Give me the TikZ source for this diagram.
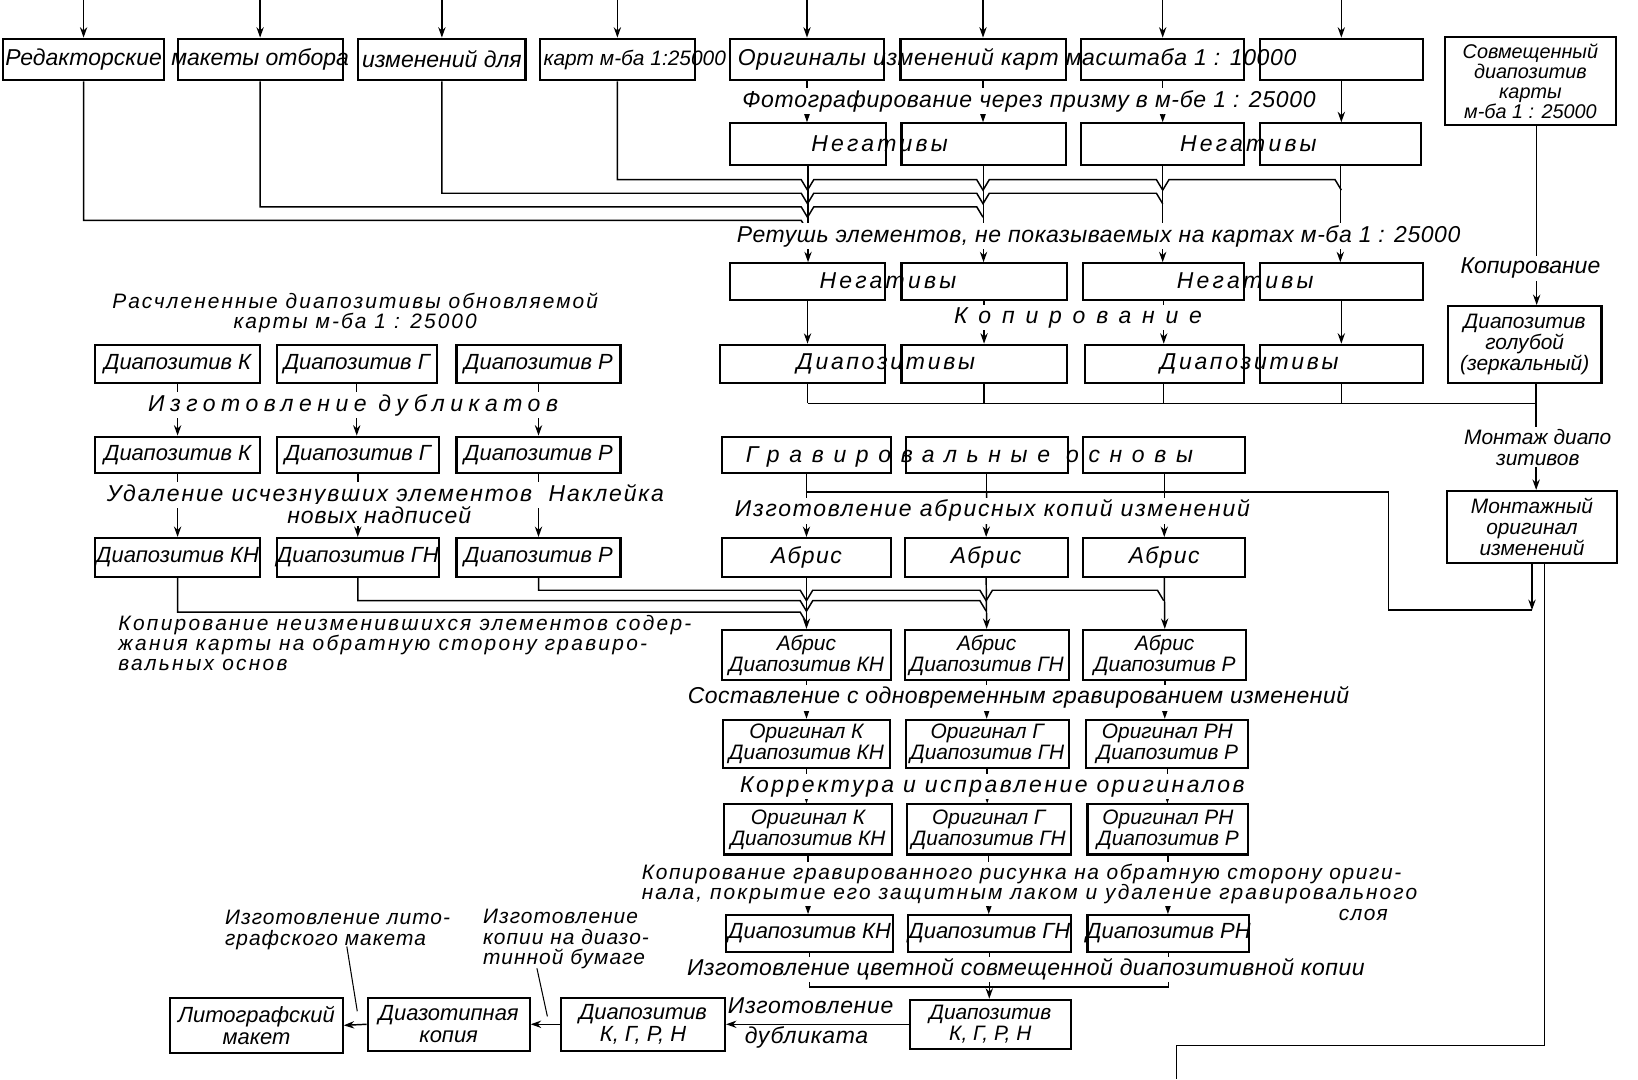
\documentclass[tikz,border=0pt]{standalone}
\usepackage{fontspec}
\setmainfont{Liberation Sans}
\usetikzlibrary{arrows.meta}
\newcommand\mybox[5]{\node[box, minimum width={(#4-#2)*0.5pt}, minimum height={(#5-#3)*0.5pt}] (#1) at ({(#2+#4)/2},{(#3+#5)/2}) {};}
\newcommand\ls[2]{{\addfontfeature{LetterSpace=#1}#2}}
\begin{document}
\begin{tikzpicture}[x=0.5pt,y=-0.5pt,
 every node/.style={font=\itshape\fontsize{11}{12}\selectfont, inner sep=0pt},
 box/.style={draw, line width=1pt},
 arr/.style={line width=0.7pt, -{Stealth[length=5pt,width=3.5pt]}},
 ln/.style={line width=0.7pt},
 lbl/.style={fill=white, inner sep=1pt},
 two/.style={align=center, font=\itshape\fontsize{10}{10}\selectfont},
 bt/.style={font=\itshape\fontsize{10.5}{12}\selectfont},
]
\fill[white] (0,0) rectangle (1568,1033);
\useasboundingbox (0,0) rectangle (1568,1033);
% ---------- boxes: top ----------
\mybox{B1}{3}{37}{157}{77}
\mybox{B2}{170}{37}{328}{77}
\mybox{B3}{343}{37}{503}{77}
\mybox{B4}{517}{37}{665}{77}
\mybox{B5}{699}{37}{846}{77}
\mybox{B6}{862}{37}{1020}{77}
\mybox{B7}{1035}{37}{1191}{77}
\mybox{B8}{1206}{37}{1362}{77}
\mybox{N1a}{699}{118}{848}{158}
\mybox{N1b}{863}{118}{1020}{158}
\mybox{N1c}{1035}{118}{1191}{158}
\mybox{N1d}{1206}{118}{1360}{158}
\mybox{N2a}{699}{252}{847}{287}
\mybox{N2b}{863}{252}{1021}{287}
\mybox{N2c}{1037}{252}{1191}{287}
\mybox{N2d}{1206}{252}{1362}{287}
\mybox{Da}{689}{330}{847}{367}
\mybox{Db}{863}{330}{1021}{367}
\mybox{Dc}{1039}{330}{1191}{367}
\mybox{Dd}{1206}{330}{1362}{367}
% right column
\mybox{S}{1383}{35}{1547}{120}
\mybox{G}{1386}{293}{1533}{367}
\mybox{M}{1385}{470}{1548}{539}
% left column
\mybox{L1a}{91}{330}{249}{367}
\mybox{L1b}{265}{330}{418}{367}
\mybox{L1c}{437}{330}{594}{367}
\mybox{L2a}{91}{418}{249}{453}
\mybox{L2b}{265}{418}{420}{453}
\mybox{L2c}{437}{418}{594}{453}
\mybox{L3a}{91}{515}{249}{552}
\mybox{L3b}{265}{515}{420}{552}
\mybox{L3c}{437}{515}{594}{552}
% middle lower
\mybox{Ga}{691}{418}{853}{453}
\mybox{Gb}{867}{418}{1022}{453}
\mybox{Gc}{1037}{418}{1192}{453}
\mybox{Aa}{691}{515}{853}{552}
\mybox{Ab}{866}{515}{1022}{552}
\mybox{Ac}{1037}{515}{1192}{552}
\mybox{ADa}{691}{603}{853}{651}
\mybox{ADb}{866}{603}{1023}{651}
\mybox{ADc}{1037}{603}{1193}{651}
\mybox{O1a}{692}{689}{852}{735}
\mybox{O1b}{867}{689}{1023}{735}
\mybox{O1c}{1040}{689}{1195}{735}
\mybox{O2a}{693}{770}{854}{818}
\mybox{O2b}{868}{770}{1025}{818}
\mybox{O2c}{1041}{770}{1195}{818}
\mybox{DBa}{695}{876}{855}{911}
\mybox{DBb}{869}{876}{1025}{911}
\mybox{DBc}{1041}{876}{1196}{911}
\mybox{RK}{871}{957}{1025}{1004}
\mybox{LK}{537}{955}{694}{1006}
\mybox{DZ}{352}{955}{507}{1006}
\mybox{LM}{163}{955}{328}{1008}
% ---------- connectors ----------
\foreach \b in {B1,B2,B3,B4,B5,B6,B7,B8} {\draw[arr] (\b.north |- 0,0) -- (\b.north);}
\draw[arr] (B5.south) -- (B5.south |- N1a.north);
\draw[arr] (B6.south) -- (B6.south |- N1b.north);
\draw[arr] (B7.south) -- (B7.south |- N1c.north);
\draw[arr] (B8.south) -- (B8.south |- N1d.north);
\draw[arr] (N1a.south) -- (N1a.south |- N2a.north);
\draw[arr] (N1b.south) -- (N1b.south |- N2b.north);
\draw[arr] (N1c.south) -- (N1c.south |- N2c.north);
\draw[arr] (N1d.south) -- (N1d.south |- N2d.north);
\draw[ln] (B4.south) |- (767,172) -- (773,182) -- (779,172) -- (935,172) -- (941,182) -- (947,172) -- (1107,172) -- (1113,182) -- (1119,172) -- (1278,172) -- (1284,182);
\draw[ln] (B3.south) |- (767,185) -- (773,195) -- (779,185) -- (935,185) -- (941,195) -- (947,185) -- (1107,185) -- (1113,195);
\draw[ln] (B2.south) |- (767,198) -- (773,208) -- (779,198) -- (935,198) -- (941,208);
\draw[ln] (B1.south) |- (767,211) -- (773,221);
\draw[arr] (N2a.south) -- (N2a.south |- Da.north);
\draw[arr] (N2b.south) -- (N2b.south |- Db.north);
\draw[arr] (N2c.south) -- (N2c.south |- Dc.north);
\draw[arr] (N2d.south) -- (N2d.south |- Dd.north);
\coordinate (dbus) at (0,386);
\draw[ln] (N2a.south |- Da.south) -- (N2a.south |- dbus);
\draw[ln] (N2b.south |- Db.south) -- (N2b.south |- dbus);
\draw[ln] (N2c.south |- Dc.south) -- (N2c.south |- dbus);
\draw[ln] (N2d.south |- Dd.south) -- (N2d.south |- dbus);
\draw[ln] (N2a.south |- dbus) -- ([xshift=5.5pt]G.south |- dbus);
\draw[arr] ([xshift=3pt]S.south) -- ([xshift=3pt]S.south |- G.north);
\draw[arr] ([xshift=5.5pt]G.south) -- ([xshift=5.5pt]G.south |- M.north);
% left
\draw[arr] (L1a.south) -- (L1a.south |- L2a.north);
\draw[arr] (L1b.south) -- (L1b.south |- L2b.north);
\draw[arr] (L1c.south) -- (L1c.south |- L2c.north);
\draw[arr] (L2a.south) -- (L2a.south |- L3a.north);
\draw[arr] (L2b.south) -- (L2b.south |- L3b.north);
\draw[arr] (L2c.south) -- (L2c.south |- L3c.north);
\draw[ln] (L3c.south) |- (766,565) -- (772,575) -- (778,565) -- (938,565) -- (944,575) -- (950,565) -- (1108,565) -- (1114,575);
\draw[ln] (L3b.south) |- (766,575) -- (772,585) -- (778,575) -- (938,575) -- (944,585);
\draw[ln] (L3a.south) |- (766,586) -- (772,596);
% gravirovalnye
\coordinate (gbus) at (0,471);
\draw[ln] (Ga.south) -- (Ga.south |- gbus);
\draw[ln] (Gb.south) -- (Gb.south |- gbus);
\draw[ln] (Gc.south) -- (Gc.south |- gbus);
\coordinate (mj) at (1466,584);
\draw[arr] (M.south) -- (M.south |- mj);
\draw[ln] (M.south |- mj) -- (1329,584) -- (1329,471) -- (Ga.south |- gbus);
\draw[arr] (Ga.south |- gbus) -- (Aa.north);
\draw[arr] (Gb.south |- gbus) -- (Ab.north);
\draw[arr] (Gc.south |- gbus) -- (Ac.north);
\draw[arr] (Aa.south) -- (ADa.north);
\draw[arr] (Ab.south) -- (ADb.north);
\draw[arr] (Ac.south) -- (ADc.north);
\draw[arr] (ADa.south) -- (ADa.south |- O1a.north);
\draw[arr] (ADb.south) -- (ADb.south |- O1b.north);
\draw[arr] (ADc.south) -- (ADc.south |- O1c.north);
\draw[arr] (O1a.south) -- (O1a.south |- O2a.north);
\draw[arr] (O1b.south) -- (O1b.south |- O2b.north);
\draw[arr] (O1c.south) -- (O1c.south |- O2c.north);
\draw[arr] (O2a.south) -- (O2a.south |- DBa.north);
\draw[arr] (O2b.south) -- (O2b.south |- DBb.north);
\draw[arr] (O2c.south) -- (O2c.south |- DBc.north);
\coordinate (cbus) at (0,945);
\draw[ln] (DBa.south) -- (DBa.south |- cbus) -- (DBc.south |- cbus) -- (DBc.south);
\draw[ln] (DBb.south) -- (DBb.south |- cbus);
\draw[arr] (DBb.south |- cbus) -- (DBb.south |- RK.north);
\draw[arr] (RK.west) -- (LK.east);
\draw[arr] (LK.west) -- (DZ.east);
\draw[arr] (DZ.west) -- (LM.east);
\coordinate (out) at (1126,1033);
\draw[ln] ([xshift=6pt]M.south) |- (out |- 0,1001) -- (out);
\coordinate (k1) at (514,927); \coordinate (k2) at (524,973);
\coordinate (m1) at (332,906); \coordinate (m2) at (342,968);
\draw[line width=0.5pt] (k1) -- (k2);
\draw[line width=0.5pt] (m1) -- (m2);
% ---------- texts ----------
\node (tB1) at (B1) {Редакторские};
\node (tB2) at (B2) {макеты отбора};
\node (tB3) at (B3) {изменений для};
\node[anchor=west,font=\itshape\fontsize{10}{12}\selectfont] (tB4) at (520,57) {карт м-ба 1:25000};
\node[anchor=west] (tOr) at (706,57) {\ls{3}{Оригиналы изменений карт масштаба 1 : 10000}};
\node[lbl] (tPh) at (985,97) {\ls{3}{Фотографирование через призму в м-бе 1 : 25000}};
\node (tN1a) at (842,138) {\ls{14}{Негативы}};
\node (tN1b) at (1195,138) {\ls{14}{Негативы}};
\node[lbl,anchor=west] (tRet) at (703,226) {\ls{2.5}{Ретушь элементов, не показываемых на картах м-ба 1 : 25000}};
\node (tN2a) at (850,269) {\ls{14}{Негативы}};
\node (tN2b) at (1192,269) {\ls{14}{Негативы}};
\node[lbl] (tCop) at (1032,304) {\ls{47}{Копирование}};
\node (tDa) at (848,348) {\ls{12}{Диапозитивы}};
\node (tDb) at (1196,348) {\ls{12}{Диапозитивы}};
\node[align=center,font=\itshape\fontsize{9.5}{9.6}\selectfont] (tS) at (S) {Совмещенный\\диапозитив\\карты\\м-ба 1 : 25000};
\node[lbl] (tKop) at (1465,257) {Копирование};
\node[two] (tG) at (G) {Диапозитив\\голубой\\(зеркальный)};
\node[lbl,align=center,font=\itshape\fontsize{10}{10}\selectfont] (tMon) at (1472,428) {Монтаж диапо\\зитивов};
\node[two] (tM) at (M) {Монтажный\\оригинал\\изменений};
\node[align=center,font=\itshape\fontsize{10}{9.6}\selectfont] (tRas) at (340,300) {\ls{10}{Расчлененные диапозитивы обновляемой}\\\ls{10}{карты м-ба 1 : 25000}};
\node[bt] (tL1a) at (L1a) {Диапозитив К};
\node[bt] (tL1b) at (L1b) {Диапозитив Г};
\node[bt] (tL1c) at (L1c) {Диапозитив Р};
\node[lbl] (tDub) at (338,388) {\ls{24}{Изготовление дубликатов}};
\node[bt] (tL2a) at (L2a) {Диапозитив К};
\node[bt] (tL2b) at (L2b) {Диапозитив Г};
\node[bt] (tL2c) at (L2c) {Диапозитив Р};
\node[lbl,anchor=west] (tUd) at (100,474) {\ls{8}{Удаление исчезнувших элементов\ \ Наклейка}};
\node[lbl] (tUd2) at (363,493) {\ls{4}{новых надписей}};
\node[bt] (tL3a) at (L3a) {Диапозитив КН};
\node[bt] (tL3b) at (L3b) {Диапозитив ГН};
\node[bt] (tL3c) at (L3c) {Диапозитив Р};
\node[align=left,anchor=north west,font=\itshape\fontsize{10}{9.6}\selectfont] (tNeiz) at (113,589) {\ls{11}{Копирование неизменившихся элементов содер-}\\\ls{11}{жания карты на обратную сторону гравиро-}\\\ls{11}{вальных основ}};
\node (tGr) at (928,437) {\ls{42}{Гравировальные основы}};
\node[lbl] (tAbr) at (950,489) {\ls{7.5}{Изготовление абрисных копий изменений}};
\node (tAa) at (Aa) {\ls{6}{Абрис}};
\node (tAb) at (Ab) {\ls{6}{Абрис}};
\node (tAc) at (Ac) {\ls{6}{Абрис}};
\node[two] (tADa) at (ADa) {Абрис\\Диапозитив КН};
\node[two] (tADb) at (ADb) {Абрис\\Диапозитив ГН};
\node[two] (tADc) at (ADc) {Абрис\\Диапозитив Р};
\node[lbl] (tSost) at (975,668) {\ls{2}{Составление с одновременным гравированием изменений}};
\node[two] (tO1a) at (O1a) {Оригинал К\\Диапозитив КН};
\node[two] (tO1b) at (O1b) {Оригинал Г\\Диапозитив ГН};
\node[two] (tO1c) at (O1c) {Оригинал РН\\Диапозитив Р};
\node[lbl] (tKor) at (950,753) {\ls{11}{Корректура и исправление оригиналов}};
\node[two] (tO2a) at (O2a) {Оригинал К\\Диапозитив КН};
\node[two] (tO2b) at (O2b) {Оригинал Г\\Диапозитив ГН};
\node[two] (tO2c) at (O2c) {Оригинал РН\\Диапозитив Р};
\node[lbl,align=left,anchor=north west,font=\itshape\fontsize{10}{9.6}\selectfont] (tKg) at (612,825) {\ls{8}{Копирование гравированного рисунка на обратную сторону ориги-}\\\ls{10}{нала, покрытие его защитным лаком и удаление гравировального}};
\node[font=\itshape\fontsize{10}{12}\selectfont] (tKg3) at (1305,876) {\ls{7}{слоя}};
\node[bt] (tDBa) at (DBa) {Диапозитив КН};
\node[bt] (tDBb) at (DBb) {Диапозитив ГН};
\node[bt] (tDBc) at (DBc) {Диапозитив РН};
\node[lbl] (tCv) at (982,928) {\ls{2}{Изготовление цветной совмещенной диапозитивной копии}};
\node[two] (tRK) at (RK) {Диапозитив\\К, Г, Р, Н};
\node (tIzd1) at (776,963) {\ls{3}{Изготовление}};
\node (tIzd2) at (772,993) {\ls{3}{дубликата}};
\node[align=center,font=\itshape\fontsize{10.5}{10.5}\selectfont] (tLK) at (LK) {Диапозитив\\К, Г, Р, Н};
\node[align=center,font=\itshape\fontsize{10.5}{10.5}\selectfont] (tDZ) at (DZ) {Диазотипная\\копия};
\node[align=center,font=\itshape\fontsize{10.5}{10.5}\selectfont] (tLM) at (LM) {Литографский\\макет};
\node[align=left,anchor=north west,font=\itshape\fontsize{10}{9.8}\selectfont] (tLit) at (215,871) {\ls{5}{Изготовление лито-}\\\ls{5}{графского макета}};
\node[align=left,anchor=north west,font=\itshape\fontsize{10}{9.8}\selectfont] (tDiaz) at (462,870) {\ls{5}{Изготовление}\\\ls{5}{копии на диазо-}\\\ls{5}{тинной бумаге}};
\end{tikzpicture}
\end{document}
